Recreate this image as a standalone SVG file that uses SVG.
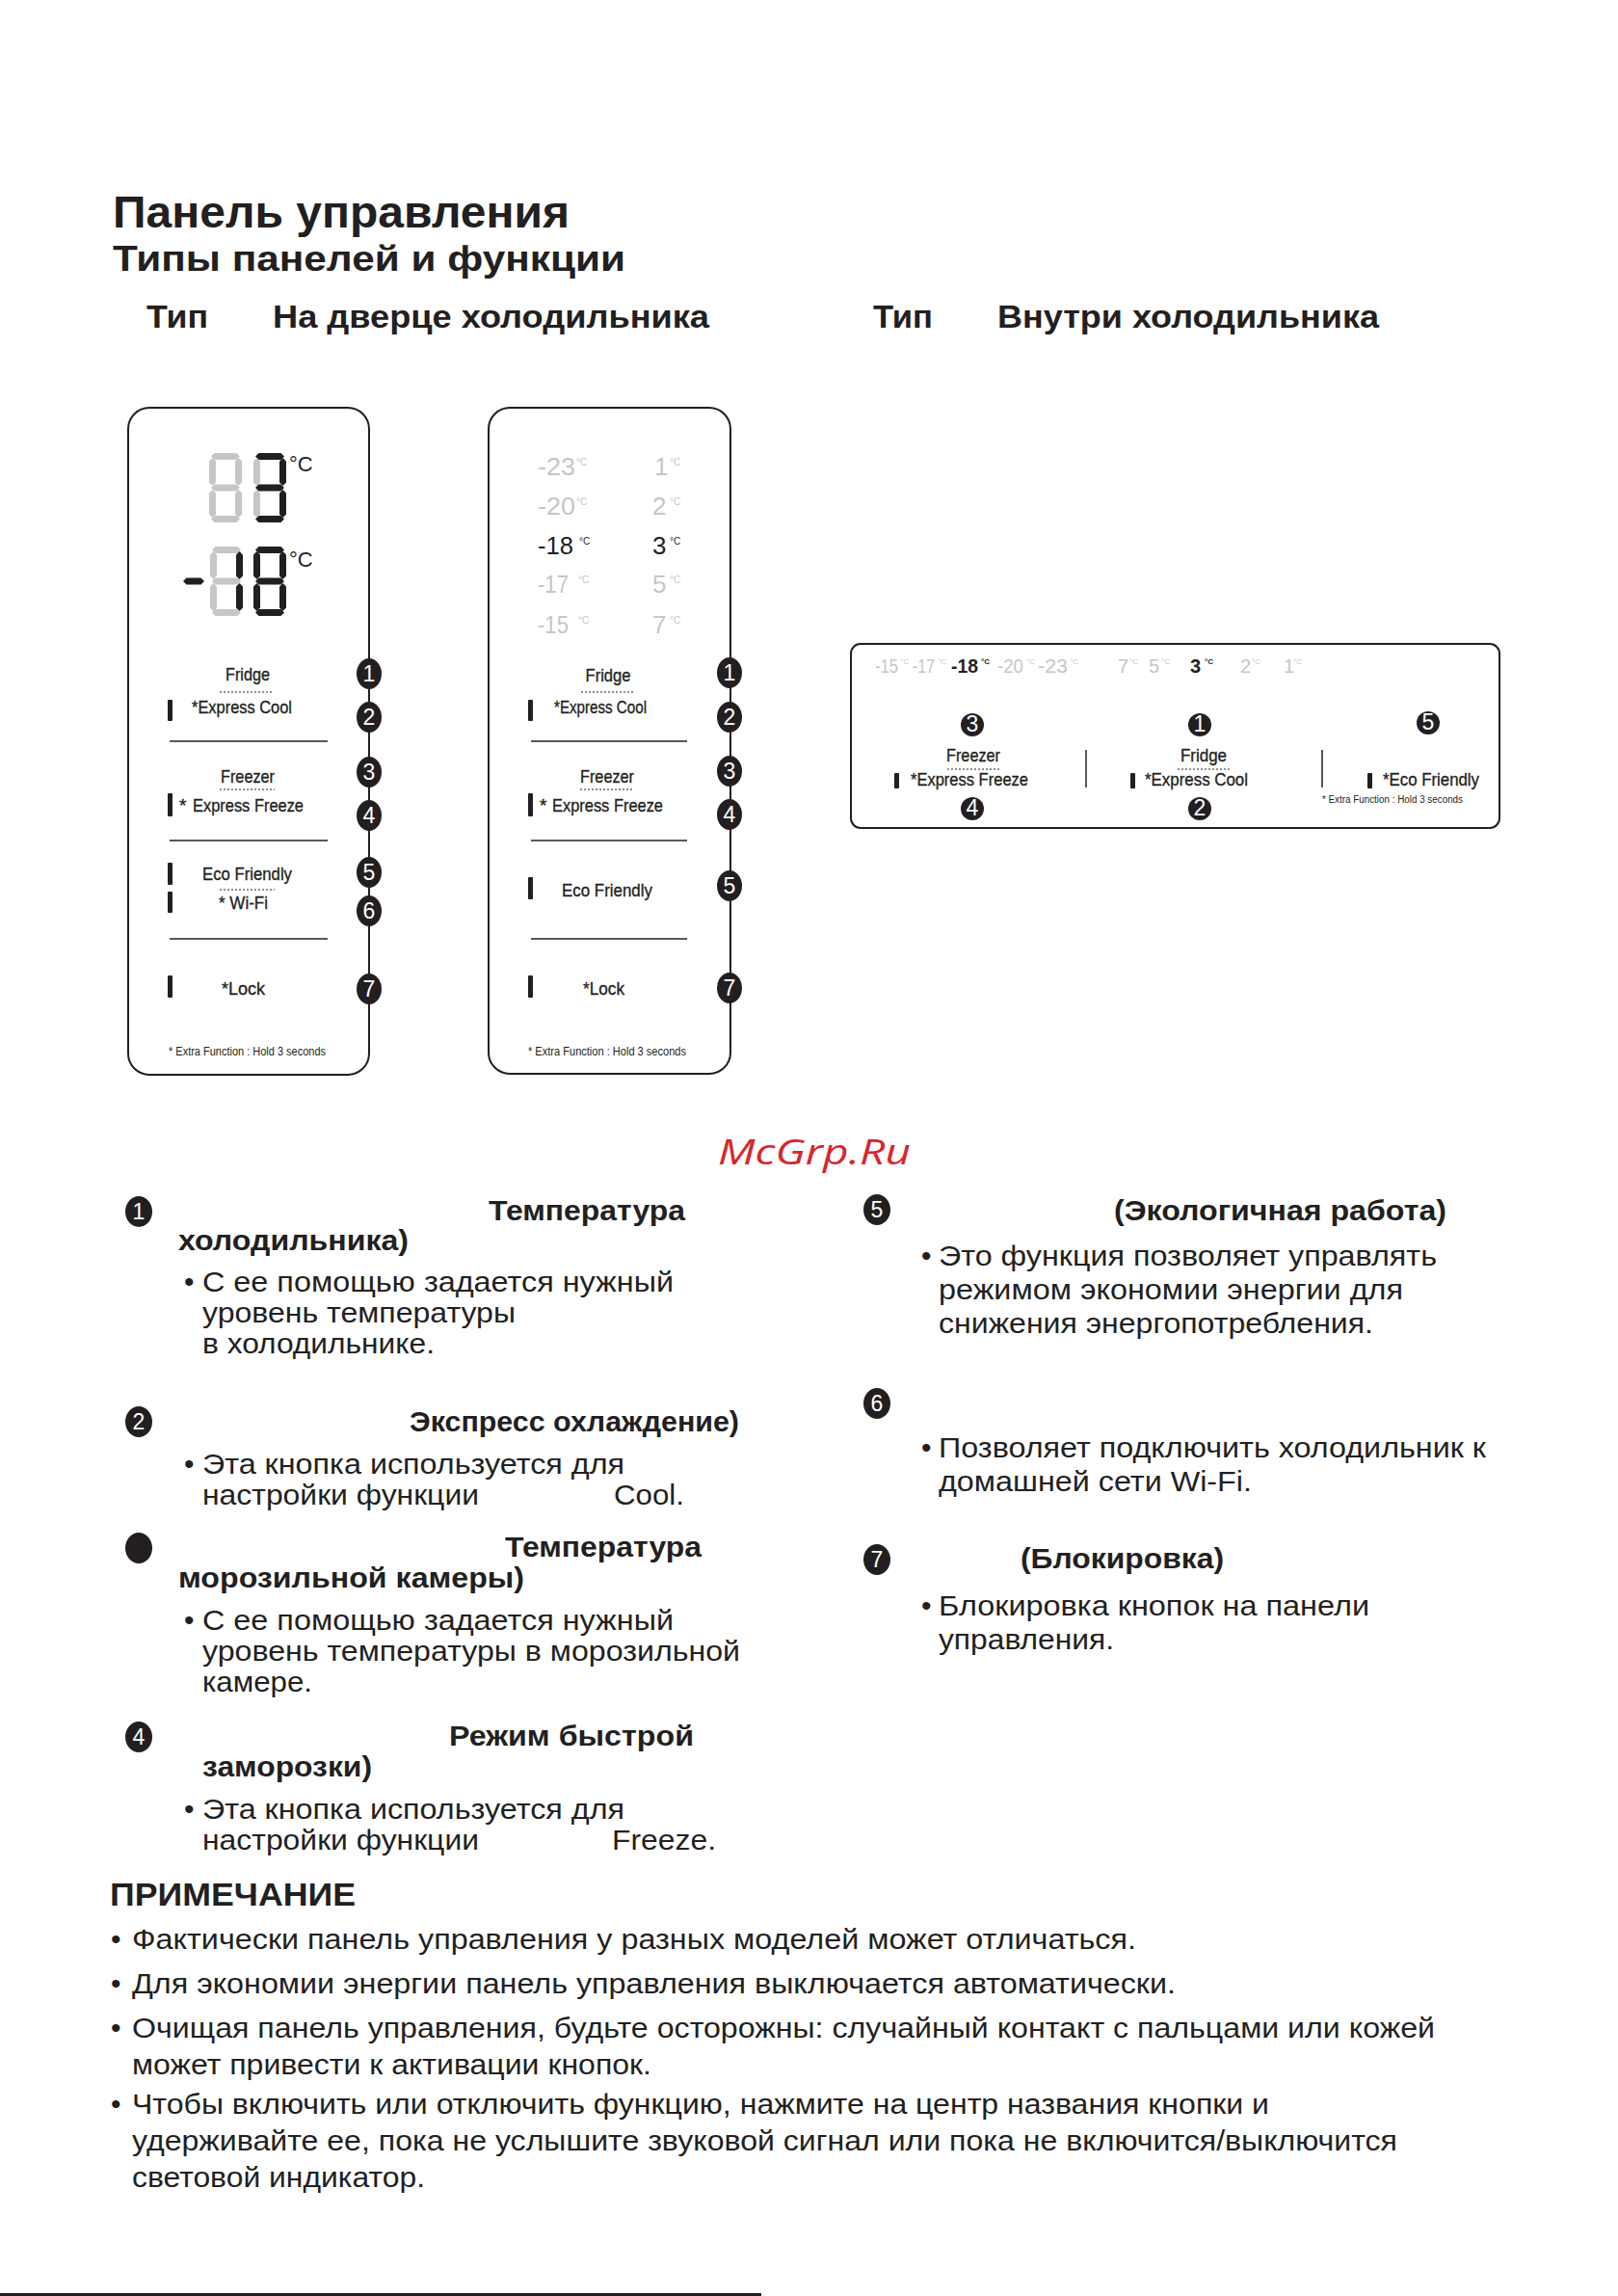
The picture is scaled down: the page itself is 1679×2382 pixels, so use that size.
<svg xmlns="http://www.w3.org/2000/svg" xmlns:xlink="http://www.w3.org/1999/xlink" width="1679" height="2382" viewBox="0 0 1679 2382">
<style>
text { font-family: "Liberation Sans Narrow", "Liberation Sans", Arial, sans-serif; fill: #231f20; }
.b { font-weight: bold; }
.h1 { font-size: 47px; font-weight: bold; }
.h2 { font-size: 37px; font-weight: bold; }
.h3 { font-size: 34px; font-weight: bold; }
.body { font-size: 30px; }
.hd { font-size: 30px; font-weight: bold; }
.lbl { font-size: 19px; stroke: #231f20; stroke-width: 0.35; }
.sm { font-size: 12px; }
.xs { font-size: 10px; }
.tmp { font-size: 26px; }
.tmph { font-size: 20px; }
.deg { font-size: 10px; }
.degh { font-size: 8px; }
.gray { fill: #c6c6c6; }
.panel { fill: #fff; stroke: #231f20; stroke-width: 2; }
.sep { stroke: #231f20; stroke-width: 1.5; }
.dot { stroke: #231f20; stroke-width: 1; stroke-dasharray: 2 2; }
.bar { fill: #231f20; }
.badge { fill: #231f20; }
.num { fill: #fff; text-anchor: middle; font-size: 23px; }
.on { fill: #231f20; }
.off { fill: #c6c6c6; }
.mid { text-anchor: middle; }
.wm { font-family: "Open Sans", "DejaVu Sans", sans-serif; font-style: italic; font-size: 36px; fill: #d8262c; }
</style>
<defs>
<path id="sa" d="M2 3.5L5.5 0H28.5L32 3.5L28.5 7H5.5Z"/>
<path id="sg" d="M2 36L5.5 32.5H28.5L32 36L28.5 39.5H5.5Z"/>
<path id="sd" d="M2 68.5L5.5 65H28.5L32 68.5L28.5 72H5.5Z"/>
<path id="sf" d="M3.5 5L7 8.5V30.5L3.5 34L0 30.5V8.5Z"/>
<path id="sb" d="M30.5 5L34 8.5V30.5L30.5 34L27 30.5V8.5Z"/>
<path id="se" d="M3.5 38L7 41.5V63.5L3.5 67L0 63.5V41.5Z"/>
<path id="sc" d="M30.5 38L34 41.5V63.5L30.5 67L27 63.5V41.5Z"/>
</defs>
<rect width="1679" height="2382" fill="#fff"/>

<g id="header">
<text class="h1" x="117" y="236" textLength="474" lengthAdjust="spacingAndGlyphs">Панель управления</text>
<text class="h2" x="117" y="281" textLength="532" lengthAdjust="spacingAndGlyphs">Типы панелей и функции</text>
<text class="h3" x="152" y="340" textLength="64" lengthAdjust="spacingAndGlyphs">Тип</text>
<text class="h3" x="283" y="340" textLength="453" lengthAdjust="spacingAndGlyphs">На дверце холодильника</text>
<text class="h3" x="906" y="340" textLength="62" lengthAdjust="spacingAndGlyphs">Тип</text>
<text class="h3" x="1035" y="340" textLength="396" lengthAdjust="spacingAndGlyphs">Внутри холодильника</text>
</g>

<g id="panel-door-digital">
<rect class="panel" x="133" y="423" width="250" height="692" rx="22"/>
<g transform="translate(217,470)"><use href="#sa" class="off"/><use href="#sb" class="off"/><use href="#sc" class="off"/><use href="#sd" class="off"/><use href="#se" class="off"/><use href="#sf" class="off"/><use href="#sg" class="off"/></g>
<g transform="translate(263,470)"><use href="#sa" class="on"/><use href="#sb" class="on"/><use href="#sc" class="on"/><use href="#sd" class="on"/><use href="#se" class="off"/><use href="#sf" class="off"/><use href="#sg" class="on"/></g>
<path class="on" d="M190 603L193.5 599.5H208.5L212 603L208.5 606.5H193.5Z"/>
<g transform="translate(218,567)"><use href="#sa" class="off"/><use href="#sb" class="on"/><use href="#sc" class="on"/><use href="#sd" class="off"/><use href="#se" class="off"/><use href="#sf" class="off"/><use href="#sg" class="off"/></g>
<g transform="translate(263,567)"><use href="#sa" class="on"/><use href="#sb" class="on"/><use href="#sc" class="on"/><use href="#sd" class="on"/><use href="#se" class="on"/><use href="#sf" class="on"/><use href="#sg" class="on"/></g>
<text x="300" y="489" font-size="22">°C</text>
<text x="300" y="588" font-size="22">°C</text>
<text class="lbl mid" x="257" y="706" textLength="46" lengthAdjust="spacingAndGlyphs">Fridge</text>
<line class="dot" x1="228" y1="718" x2="284" y2="718"/>
<rect class="bar" x="174" y="726" width="5" height="22" rx="1"/>
<text class="lbl" x="199" y="740" textLength="104" lengthAdjust="spacingAndGlyphs">*Express Cool</text>
<line class="sep" x1="176" y1="769" x2="340" y2="769"/>
<text class="lbl mid" x="257" y="812" textLength="56" lengthAdjust="spacingAndGlyphs">Freezer</text>
<line class="dot" x1="228" y1="819" x2="285" y2="819"/>
<rect class="bar" x="174" y="823" width="5" height="24" rx="1"/>
<text class="lbl" x="186" y="842">*</text>
<text class="lbl" x="200" y="842" textLength="115" lengthAdjust="spacingAndGlyphs">Express Freeze</text>
<line class="sep" x1="176" y1="872" x2="340" y2="872"/>
<rect class="bar" x="174" y="895" width="5" height="23" rx="1"/>
<text class="lbl" x="210" y="913" textLength="93" lengthAdjust="spacingAndGlyphs">Eco Friendly</text>
<line class="dot" x1="228" y1="923" x2="285" y2="923"/>
<rect class="bar" x="174" y="925" width="5" height="22" rx="1"/>
<text class="lbl" x="227" y="943" textLength="51" lengthAdjust="spacingAndGlyphs">* Wi-Fi</text>
<line class="sep" x1="176" y1="974" x2="340" y2="974"/>
<rect class="bar" x="174" y="1012" width="5" height="23" rx="1"/>
<text class="lbl" x="230" y="1032" textLength="45" lengthAdjust="spacingAndGlyphs">*Lock</text>
<text class="sm" x="175" y="1095" textLength="163" lengthAdjust="spacingAndGlyphs">* Extra Function : Hold 3 seconds</text>
<ellipse class="badge" cx="383" cy="699" rx="13" ry="16"/><text class="num" x="383" y="707">1</text>
<ellipse class="badge" cx="383" cy="744" rx="13" ry="16"/><text class="num" x="383" y="752">2</text>
<ellipse class="badge" cx="383" cy="801" rx="13" ry="16"/><text class="num" x="383" y="809">3</text>
<ellipse class="badge" cx="383" cy="846" rx="13" ry="16"/><text class="num" x="383" y="854">4</text>
<ellipse class="badge" cx="383" cy="905" rx="13" ry="16"/><text class="num" x="383" y="913">5</text>
<ellipse class="badge" cx="383" cy="945" rx="13" ry="16"/><text class="num" x="383" y="953">6</text>
<ellipse class="badge" cx="383" cy="1026" rx="13" ry="16"/><text class="num" x="383" y="1034">7</text>
</g>

<g id="panel-door-list">
<rect class="panel" x="507" y="423" width="251" height="691" rx="22"/>
<text class="tmp gray" x="558" y="493" textLength="39" lengthAdjust="spacingAndGlyphs">-23</text><text class="deg gray" x="598" y="483">°C</text>
<text class="tmp gray" x="558" y="534" textLength="39" lengthAdjust="spacingAndGlyphs">-20</text><text class="deg gray" x="598" y="524">°C</text>
<text class="tmp" x="558" y="575" textLength="37" lengthAdjust="spacingAndGlyphs">-18</text><text class="deg" x="601" y="565">°C</text>
<text class="tmp gray" x="558" y="615" textLength="32" lengthAdjust="spacingAndGlyphs">-17</text><text class="deg gray" x="600" y="605">°C</text>
<text class="tmp gray" x="558" y="657" textLength="32" lengthAdjust="spacingAndGlyphs">-15</text><text class="deg gray" x="600" y="647">°C</text>
<text class="tmp gray" x="679" y="493">1</text><text class="deg gray" x="695" y="483">°C</text>
<text class="tmp gray" x="677" y="534">2</text><text class="deg gray" x="695" y="524">°C</text>
<text class="tmp" x="677" y="575">3</text><text class="deg" x="695" y="565">°C</text>
<text class="tmp gray" x="677" y="615">5</text><text class="deg gray" x="695" y="605">°C</text>
<text class="tmp gray" x="677" y="657">7</text><text class="deg gray" x="695" y="647">°C</text>
<text class="lbl mid" x="631" y="707" textLength="47" lengthAdjust="spacingAndGlyphs">Fridge</text>
<line class="dot" x1="603" y1="718" x2="658" y2="718"/>
<rect class="bar" x="548" y="726" width="5" height="22" rx="1"/>
<text class="lbl" x="575" y="740" textLength="96" lengthAdjust="spacingAndGlyphs">*Express Cool</text>
<line class="sep" x1="551" y1="769" x2="713" y2="769"/>
<text class="lbl mid" x="630" y="812" textLength="56" lengthAdjust="spacingAndGlyphs">Freezer</text>
<line class="dot" x1="602" y1="819" x2="658" y2="819"/>
<rect class="bar" x="548" y="823" width="5" height="24" rx="1"/>
<text class="lbl" x="560" y="842">*</text>
<text class="lbl" x="573" y="842" textLength="115" lengthAdjust="spacingAndGlyphs">Express Freeze</text>
<line class="sep" x1="551" y1="872" x2="713" y2="872"/>
<rect class="bar" x="548" y="910" width="5" height="23" rx="1"/>
<text class="lbl" x="583" y="930" textLength="94" lengthAdjust="spacingAndGlyphs">Eco Friendly</text>
<line class="sep" x1="551" y1="974" x2="713" y2="974"/>
<rect class="bar" x="548" y="1012" width="5" height="23" rx="1"/>
<text class="lbl" x="605" y="1032" textLength="43" lengthAdjust="spacingAndGlyphs">*Lock</text>
<text class="sm" x="548" y="1095" textLength="164" lengthAdjust="spacingAndGlyphs">* Extra Function : Hold 3 seconds</text>
<ellipse class="badge" cx="757" cy="698" rx="13" ry="16"/><text class="num" x="757" y="706">1</text>
<ellipse class="badge" cx="757" cy="744" rx="13" ry="16"/><text class="num" x="757" y="752">2</text>
<ellipse class="badge" cx="757" cy="800" rx="13" ry="16"/><text class="num" x="757" y="808">3</text>
<ellipse class="badge" cx="757" cy="845" rx="13" ry="16"/><text class="num" x="757" y="853">4</text>
<ellipse class="badge" cx="757" cy="919" rx="13" ry="16"/><text class="num" x="757" y="927">5</text>
<ellipse class="badge" cx="757" cy="1025" rx="13" ry="16"/><text class="num" x="757" y="1033">7</text>
</g>

<g id="panel-inside">
<rect class="panel" x="883" y="668" width="673" height="191" rx="10"/>
<text class="tmph gray" x="908" y="698" textLength="24" lengthAdjust="spacingAndGlyphs">-15</text><text class="degh gray" x="934" y="689">°C</text>
<text class="tmph gray" x="947" y="698" textLength="23" lengthAdjust="spacingAndGlyphs">-17</text><text class="degh gray" x="973" y="689">°C</text>
<text class="tmph b" x="987" y="698" textLength="28" lengthAdjust="spacingAndGlyphs">-18</text><text class="degh b" x="1018" y="689">°C</text>
<text class="tmph gray" x="1035" y="698" textLength="27" lengthAdjust="spacingAndGlyphs">-20</text><text class="degh gray" x="1065" y="689">°C</text>
<text class="tmph gray" x="1077" y="698" textLength="31" lengthAdjust="spacingAndGlyphs">-23</text><text class="degh gray" x="1110" y="689">°C</text>
<text class="tmph gray" x="1160" y="698">7</text><text class="degh gray" x="1172" y="689">°C</text>
<text class="tmph gray" x="1192" y="698">5</text><text class="degh gray" x="1205" y="689">°C</text>
<text class="tmph b" x="1235" y="698">3</text><text class="degh b" x="1250" y="689">°C</text>
<text class="tmph gray" x="1287" y="698">2</text><text class="degh gray" x="1299" y="689">°C</text>
<text class="tmph gray" x="1332" y="698">1</text><text class="degh gray" x="1342" y="689">°C</text>
<text class="lbl mid" x="1010" y="790" font-size="17" textLength="56" lengthAdjust="spacingAndGlyphs">Freezer</text>
<line class="dot" x1="983" y1="798" x2="1038" y2="798"/>
<rect class="bar" x="928" y="802" width="5" height="16" rx="1"/>
<text class="lbl" x="945" y="815" font-size="17" textLength="122" lengthAdjust="spacingAndGlyphs">*Express Freeze</text>
<line class="sep" x1="1127" y1="778" x2="1127" y2="817"/>
<text class="lbl mid" x="1249" y="790" font-size="17" textLength="48" lengthAdjust="spacingAndGlyphs">Fridge</text>
<line class="dot" x1="1222" y1="798" x2="1276" y2="798"/>
<rect class="bar" x="1173" y="802" width="5" height="16" rx="1"/>
<text class="lbl" x="1188" y="815" font-size="17" textLength="107" lengthAdjust="spacingAndGlyphs">*Express Cool</text>
<line class="sep" x1="1372" y1="778" x2="1372" y2="817"/>
<rect class="bar" x="1419" y="802" width="5" height="16" rx="1"/>
<text class="lbl" x="1435" y="815" font-size="17" textLength="100" lengthAdjust="spacingAndGlyphs">*Eco Friendly</text>
<text class="xs" x="1372" y="833" textLength="146" lengthAdjust="spacingAndGlyphs">* Extra Function : Hold 3 seconds</text>
<circle class="badge" cx="1009" cy="752" r="12"/><text class="num" x="1009" y="759" font-size="19">3</text>
<circle class="badge" cx="1245" cy="752" r="12"/><text class="num" x="1245" y="759" font-size="19">1</text>
<circle class="badge" cx="1009" cy="839" r="12"/><text class="num" x="1009" y="846" font-size="19">4</text>
<circle class="badge" cx="1245" cy="839" r="12"/><text class="num" x="1245" y="846" font-size="19">2</text>
<circle class="badge" cx="1482" cy="750" r="12"/><text class="num" x="1482" y="757" font-size="19">5</text>
</g>

<text class="wm" x="745" y="1208" textLength="200" lengthAdjust="spacingAndGlyphs">McGrp.Ru</text>

<g id="item-1">
<ellipse class="badge" cx="144" cy="1257" rx="14" ry="16"/><text class="num" x="144" y="1265">1</text>
<text class="hd" x="507" y="1266" textLength="204" lengthAdjust="spacingAndGlyphs">Температура</text>
<text class="hd" x="185" y="1297" textLength="239" lengthAdjust="spacingAndGlyphs">холодильника)</text>
<text class="body" x="191" y="1340">•</text>
<text class="body" x="210" y="1340" textLength="489" lengthAdjust="spacingAndGlyphs">С ее помощью задается нужный</text>
<text class="body" x="210" y="1372" textLength="325" lengthAdjust="spacingAndGlyphs">уровень температуры</text>
<text class="body" x="210" y="1404" textLength="241" lengthAdjust="spacingAndGlyphs">в холодильнике.</text>
</g>
<g id="item-2">
<ellipse class="badge" cx="144" cy="1475" rx="14" ry="16"/><text class="num" x="144" y="1483">2</text>
<text class="hd" x="425" y="1485" textLength="342" lengthAdjust="spacingAndGlyphs">Экспресс охлаждение)</text>
<text class="body" x="191" y="1529">•</text>
<text class="body" x="210" y="1529" textLength="438" lengthAdjust="spacingAndGlyphs">Эта кнопка используется для</text>
<text class="body" x="210" y="1561" textLength="287" lengthAdjust="spacingAndGlyphs">настройки функции</text>
<text class="body" x="637" y="1561" textLength="73" lengthAdjust="spacingAndGlyphs">Cool.</text>
</g>
<g id="item-3">
<ellipse class="badge" cx="144" cy="1606" rx="14" ry="16"/>
<text class="hd" x="524" y="1615" textLength="204" lengthAdjust="spacingAndGlyphs">Температура</text>
<text class="hd" x="185" y="1647" textLength="359" lengthAdjust="spacingAndGlyphs">морозильной камеры)</text>
<text class="body" x="191" y="1691">•</text>
<text class="body" x="210" y="1691" textLength="489" lengthAdjust="spacingAndGlyphs">С ее помощью задается нужный</text>
<text class="body" x="210" y="1723" textLength="558" lengthAdjust="spacingAndGlyphs">уровень температуры в морозильной</text>
<text class="body" x="210" y="1755" textLength="114" lengthAdjust="spacingAndGlyphs">камере.</text>
</g>
<g id="item-4">
<ellipse class="badge" cx="144" cy="1802" rx="14" ry="16"/><text class="num" x="144" y="1810">4</text>
<text class="hd" x="466" y="1811" textLength="254" lengthAdjust="spacingAndGlyphs">Режим быстрой</text>
<text class="hd" x="210" y="1843" textLength="176" lengthAdjust="spacingAndGlyphs">заморозки)</text>
<text class="body" x="191" y="1887">•</text>
<text class="body" x="210" y="1887" textLength="438" lengthAdjust="spacingAndGlyphs">Эта кнопка используется для</text>
<text class="body" x="210" y="1919" textLength="287" lengthAdjust="spacingAndGlyphs">настройки функции</text>
<text class="body" x="635" y="1919" textLength="108" lengthAdjust="spacingAndGlyphs">Freeze.</text>
</g>
<g id="item-5">
<ellipse class="badge" cx="910" cy="1255" rx="14" ry="16"/><text class="num" x="910" y="1263">5</text>
<text class="hd" x="1156" y="1266" textLength="345" lengthAdjust="spacingAndGlyphs">(Экологичная работа)</text>
<text class="body" x="956" y="1313">•</text>
<text class="body" x="974" y="1313" textLength="517" lengthAdjust="spacingAndGlyphs">Это функция позволяет управлять</text>
<text class="body" x="974" y="1348" textLength="482" lengthAdjust="spacingAndGlyphs">режимом экономии энергии для</text>
<text class="body" x="974" y="1383" textLength="451" lengthAdjust="spacingAndGlyphs">снижения энергопотребления.</text>
</g>
<g id="item-6">
<ellipse class="badge" cx="910" cy="1456" rx="14" ry="16"/><text class="num" x="910" y="1464">6</text>
<text class="body" x="956" y="1512">•</text>
<text class="body" x="974" y="1512" textLength="568" lengthAdjust="spacingAndGlyphs">Позволяет подключить холодильник к</text>
<text class="body" x="974" y="1547" textLength="325" lengthAdjust="spacingAndGlyphs">домашней сети Wi-Fi.</text>
</g>
<g id="item-7">
<ellipse class="badge" cx="910" cy="1618" rx="14" ry="16"/><text class="num" x="910" y="1626">7</text>
<text class="hd" x="1059" y="1627" textLength="211" lengthAdjust="spacingAndGlyphs">(Блокировка)</text>
<text class="body" x="956" y="1676">•</text>
<text class="body" x="974" y="1676" textLength="447" lengthAdjust="spacingAndGlyphs">Блокировка кнопок на панели</text>
<text class="body" x="974" y="1711" textLength="182" lengthAdjust="spacingAndGlyphs">управления.</text>
</g>

<g id="note">
<text class="h3" x="114" y="1977" textLength="255" lengthAdjust="spacingAndGlyphs">ПРИМЕЧАНИЕ</text>
<text class="body" x="115" y="2022">•</text>
<text class="body" x="137" y="2022" textLength="1042" lengthAdjust="spacingAndGlyphs">Фактически панель управления у разных моделей может отличаться.</text>
<text class="body" x="115" y="2068">•</text>
<text class="body" x="137" y="2068" textLength="1083" lengthAdjust="spacingAndGlyphs">Для экономии энергии панель управления выключается автоматически.</text>
<text class="body" x="115" y="2114">•</text>
<text class="body" x="137" y="2114" textLength="1352" lengthAdjust="spacingAndGlyphs">Очищая панель управления, будьте осторожны: случайный контакт с пальцами или кожей</text>
<text class="body" x="137" y="2152" textLength="539" lengthAdjust="spacingAndGlyphs">может привести к активации кнопок.</text>
<text class="body" x="115" y="2193">•</text>
<text class="body" x="137" y="2193" textLength="1180" lengthAdjust="spacingAndGlyphs">Чтобы включить или отключить функцию, нажмите на центр названия кнопки и</text>
<text class="body" x="137" y="2231" textLength="1313" lengthAdjust="spacingAndGlyphs">удерживайте ее, пока не услышите звуковой сигнал или пока не включится/выключится</text>
<text class="body" x="137" y="2269" textLength="304" lengthAdjust="spacingAndGlyphs">световой индикатор.</text>
</g>

<rect x="0" y="2379" width="790" height="3" fill="#231f20"/>
</svg>
